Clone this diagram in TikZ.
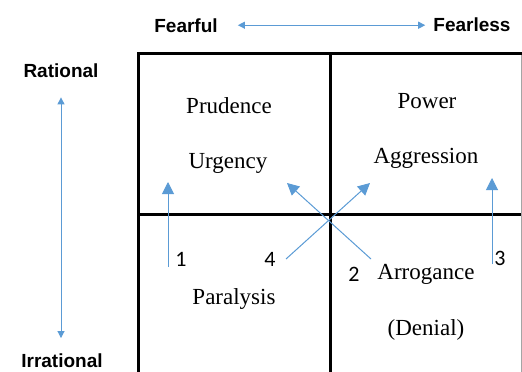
\documentclass[tikz,border=0pt]{standalone}
\usepackage{fontspec}
\setmainfont{Liberation Serif}
\newfontfamily\axisfont{Liberation Sans}
\newfontfamily\numfont{Carlito}
\usepackage{tikz}
\usetikzlibrary{arrows.meta}
\definecolor{arrow-blue}{RGB}{91,155,213}
\definecolor{edge-gray}{RGB}{165,165,165}
\tikzset{
    quadrant/.style = {font=\fontsize{23}{26}\selectfont, anchor=base, inner sep=0pt},
    axislabel/.style = {font=\axisfont\bfseries\fontsize{19}{22}\selectfont, anchor=base, inner sep=0pt},
    steplabel/.style = {font=\numfont\fontsize{22}{24}\selectfont, inner sep=0pt},
    axisarrow/.style = {arrow-blue, line width=1pt, {Triangle[length=7pt,width=7pt]}-{Triangle[length=7pt,width=7pt]}},
    moveline/.style = {arrow-blue, line width=1pt, -{Triangle[length=12pt,width=12pt]}},
    gridline/.style = {line width=3pt, line join=miter}
}

\begin{document}
\begin{tikzpicture}[x=1pt, y=-1pt]
\useasboundingbox (0,0) rectangle (522,372);

%axes
\node[axislabel] (fearful) at (186,32) {Fearful};
\node[axislabel] (fearless) at (472,31) {Fearless};
\node[axislabel] (rational) at (61,77) {Rational};
\node[axislabel] (irrational) at (62,367) {Irrational};

\draw[axisarrow] ([xshift=20pt]fearful.east) -- ([xshift=-8pt]fearless.west |- fearful.east);
\draw[axisarrow] ([yshift=-20pt]rational.south) -- ([yshift=15pt]irrational.north -| rational.south);

%grid
\draw[gridline] (138,380) -- (138,53) -- (530,53);
\draw[gridline] (330,53) -- (330,380);
\draw[gridline] (138,214) -- (530,214);
\draw[edge-gray, line width=0.8pt] (521,55) -- (521,380);

%quadrants
\node[quadrant] (prudence) at (229,113) {Prudence};
\node[quadrant] (urgency) at (228,168) {Urgency};
\node[quadrant] (power) at (427,108) {Power};
\node[quadrant] (aggression) at (426,163) {Aggression};
\node[quadrant] (paralysis) at (234,304) {Paralysis};
\node[quadrant] (arrogance) at (426,279) {Arrogance};
\node[quadrant] (denial) at (426,335) {(Denial)};

%moves
\node[steplabel] (step1) at (181,259) {1};
\node[steplabel] (step4) at (270,259) {4};
\node[steplabel] (step2) at (354,274) {2};
\node[steplabel] (step3) at (500,258) {3};

\coordinate (tail1) at (168,267);
\coordinate (head1) at (168,182);
\coordinate (tail4) at (286,259);
\coordinate (head4) at (370,183);
\coordinate (tail2) at (371,259);
\coordinate (head2) at (287,183);
\coordinate (tail3) at (492,264);
\coordinate (head3) at (492,178);

\draw[moveline] (tail1) -- (head1);
\draw[moveline] (tail4) -- (head4);
\draw[moveline] (tail2) -- (head2);
\draw[moveline] (tail3) -- (head3);

\end{tikzpicture}
\end{document}
